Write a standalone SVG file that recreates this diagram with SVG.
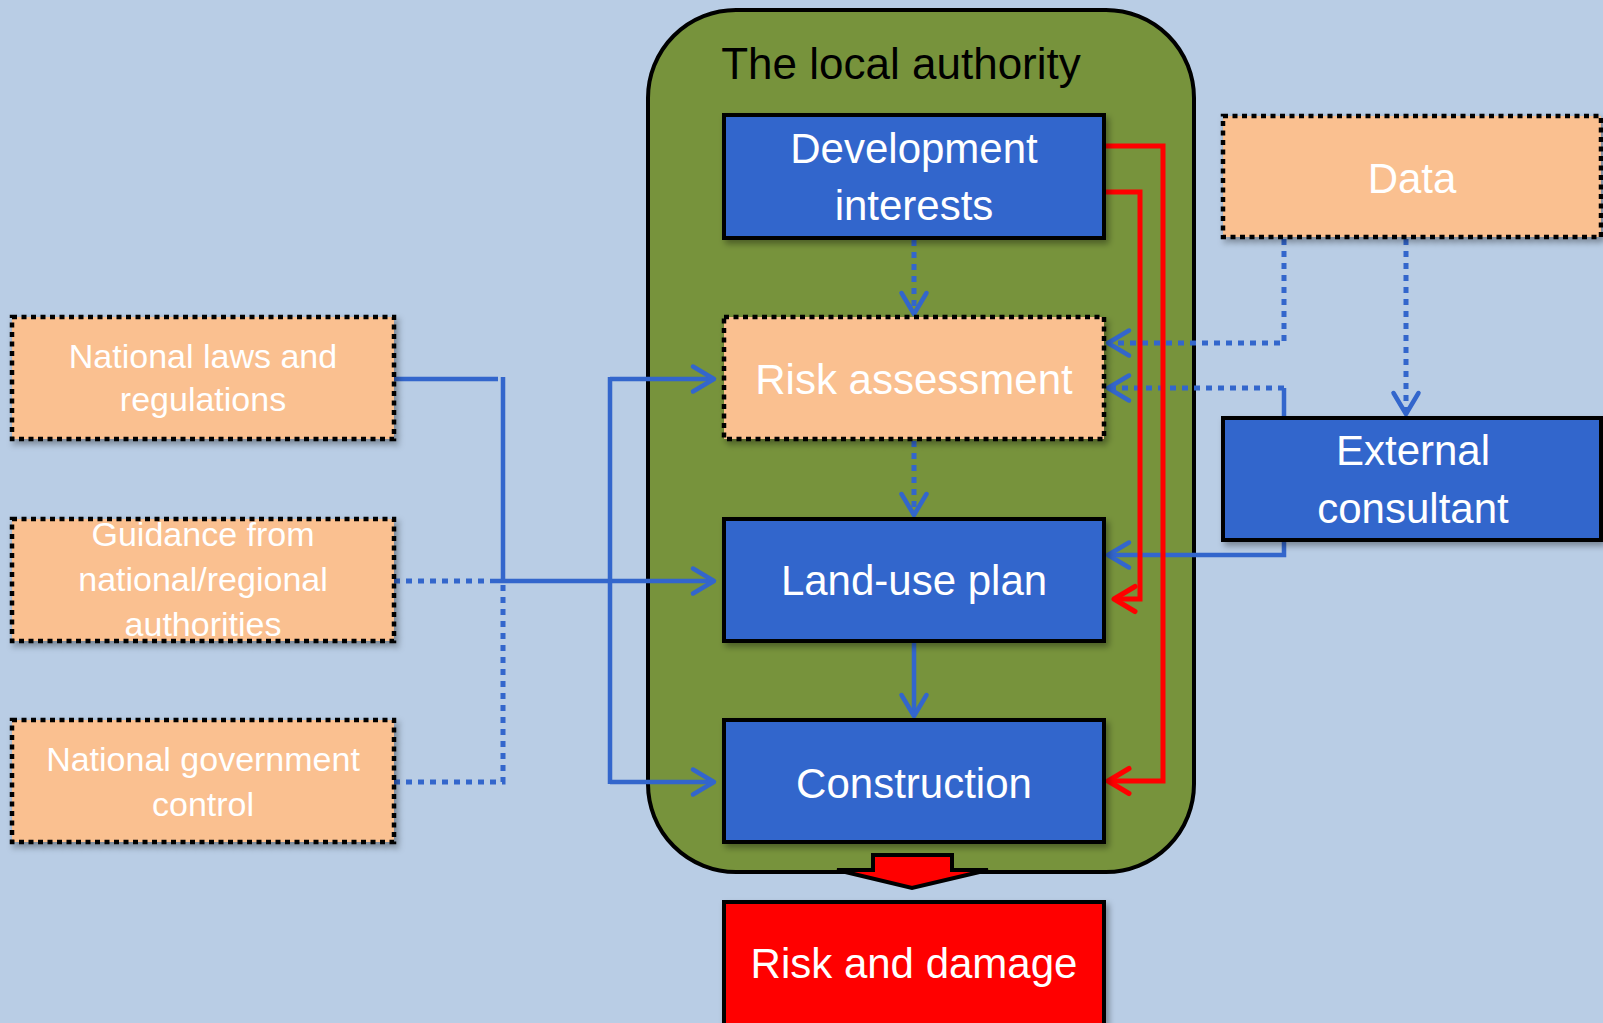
<svg xmlns="http://www.w3.org/2000/svg" width="1603" height="1023" viewBox="0 0 1603 1023">
<style>
.t{font-family:"Liberation Sans",Arial,sans-serif;fill:#fff;text-anchor:middle}
.big{font-size:42px}
.sm{font-size:34px}
.blue{fill:#3366CC;stroke:#000;stroke-width:4}
.peach{fill:#FAC090;stroke:#000;stroke-width:4.5;stroke-dasharray:5 4.5}
.red{fill:#FF0000;stroke:#000;stroke-width:4}
.ln{fill:none;stroke:#3366CC;stroke-width:4.5}
.dot{stroke-width:5;stroke-dasharray:6 6}
.rl{fill:none;stroke:#FF0000;stroke-width:5}
</style>
<defs>
<filter id="sh" x="-10%" y="-10%" width="130%" height="140%">
<feDropShadow dx="3" dy="4" stdDeviation="3" flood-color="#000" flood-opacity="0.35"/>
</filter>
<marker id="ab" markerUnits="userSpaceOnUse" markerWidth="30" markerHeight="30" refX="0" refY="0" orient="auto" overflow="visible">
<path d="M-21,-12.5 L0,0 L-21,12.5" fill="none" stroke="#3366CC" stroke-width="4.5" stroke-linecap="round" stroke-linejoin="round" stroke-dasharray="none"/>
</marker>
<marker id="ar" markerUnits="userSpaceOnUse" markerWidth="30" markerHeight="30" refX="0" refY="0" orient="auto" overflow="visible">
<path d="M-21,-12.5 L0,0 L-21,12.5" fill="none" stroke="#FF0000" stroke-width="5" stroke-linecap="round" stroke-linejoin="round" stroke-dasharray="none"/>
</marker>
</defs>
<rect x="0" y="0" width="1603" height="1023" fill="#B9CDE5"/>

<g id="local-authority">
<rect x="648" y="10" width="546" height="862" rx="88" ry="88" fill="#77933C" stroke="#000" stroke-width="4"/>
<text x="901" y="79" font-family="'Liberation Sans',Arial,sans-serif" font-size="44" fill="#000" text-anchor="middle">The local authority</text>
</g>

<g id="connectors">
<path class="ln" d="M394,379 H498"/>
<path class="ln" d="M503,377 V579"/>
<path class="ln dot" d="M394,581 H490"/>
<path class="ln dot" d="M394,782 H503 V583"/>
<path class="ln" d="M490,581 H714" marker-end="url(#ab)"/>
<path class="ln" d="M610,379 H714" marker-end="url(#ab)"/>
<path class="ln" d="M610,377 V784"/>
<path class="ln" d="M610,782 H714" marker-end="url(#ab)"/>
<path class="ln dot" d="M914,240 V314" marker-end="url(#ab)"/>
<path class="ln dot" d="M914,441 V515" marker-end="url(#ab)"/>
<path class="ln" d="M914,642 V716" marker-end="url(#ab)"/>
<path class="ln dot" d="M1284,239 V343 H1108" marker-end="url(#ab)"/>
<path class="ln dot" d="M1406,239 V414" marker-end="url(#ab)"/>
<path class="ln" d="M1284,418 V388"/>
<path class="ln dot" d="M1284,388 H1108" marker-end="url(#ab)"/>
<path class="ln" d="M1284,540 V555 H1108" marker-end="url(#ab)"/>
<path class="rl" d="M1104,146 H1163 V781 H1108" marker-end="url(#ar)"/>
<path class="rl" d="M1104,192 H1140 V599 H1114" marker-end="url(#ar)"/>
<polygon points="873,855 952,855 952,870 988,870 912,888 837,870 873,870" fill="#FF0000" stroke="#000" stroke-width="4" stroke-linejoin="miter"/>
</g>

<g id="development-interests">
<rect class="blue" x="724" y="115" width="380" height="123" filter="url(#sh)"/>
<text class="t big" x="914" y="163">Development</text>
<text class="t big" x="914" y="220">interests</text>
</g>
<g id="risk-assessment">
<rect class="peach" x="724" y="317" width="380" height="122" filter="url(#sh)"/>
<text class="t big" x="914" y="394">Risk assessment</text>
</g>
<g id="land-use-plan">
<rect class="blue" x="724" y="519" width="380" height="122" filter="url(#sh)"/>
<text class="t big" x="914" y="595">Land-use plan</text>
</g>
<g id="construction">
<rect class="blue" x="724" y="720" width="380" height="122" filter="url(#sh)"/>
<text class="t big" x="914" y="798">Construction</text>
</g>
<g id="risk-and-damage">
<rect class="red" x="724" y="902" width="380" height="140" filter="url(#sh)"/>
<text class="t big" x="914" y="978">Risk and damage</text>
</g>
<g id="data">
<rect class="peach" x="1223" y="116" width="378" height="121" filter="url(#sh)"/>
<text class="t big" x="1412" y="193">Data</text>
</g>
<g id="external-consultant">
<rect class="blue" x="1223" y="418" width="378" height="122" filter="url(#sh)"/>
<text class="t big" x="1413" y="465">External</text>
<text class="t big" x="1413" y="523">consultant</text>
</g>
<g id="national-laws">
<rect class="peach" x="12" y="317" width="382" height="122" filter="url(#sh)"/>
<text class="t sm" x="203" y="368">National laws and</text>
<text class="t sm" x="203" y="411">regulations</text>
</g>
<g id="guidance">
<rect class="peach" x="12" y="519" width="382" height="122" filter="url(#sh)"/>
<text class="t sm" x="203" y="546">Guidance from</text>
<text class="t sm" x="203" y="591">national/regional</text>
<text class="t sm" x="203" y="636">authorities</text>
</g>
<g id="national-government-control">
<rect class="peach" x="12" y="720" width="382" height="122" filter="url(#sh)"/>
<text class="t sm" x="203" y="771">National government</text>
<text class="t sm" x="203" y="816">control</text>
</g>
</svg>
